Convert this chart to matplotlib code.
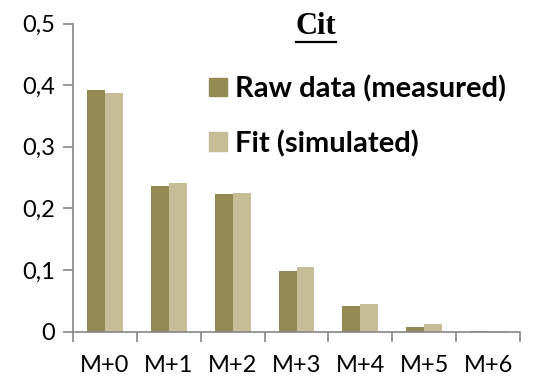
import matplotlib
matplotlib.use("Agg")
import matplotlib.pyplot as plt
import numpy as np
from matplotlib.ticker import FuncFormatter, FixedLocator
from matplotlib.patches import Patch
from matplotlib.lines import Line2D

categories = ["M+0", "M+1", "M+2", "M+3", "M+4", "M+5", "M+6"]
raw_values = [0.3916, 0.237, 0.2237, 0.0987, 0.0419, 0.0068, 0.0003]
fit_values = [0.3867, 0.241, 0.2253, 0.104, 0.045, 0.0122, 0.0015]
series_labels = ["Raw data (measured)", "Fit (simulated)"]
title = "Cit"

raw_color = "#948A54"
fit_color = "#C4BD97"
axis_color = "#868686"

plt.rcParams['font.family'] = ['Lato', 'DejaVu Sans']

fig = plt.figure(figsize=(5.51, 3.81), dpi=100)
ax = fig.add_axes([73/551, 1-331.5/381, (520-73)/551, (331.5-23.5)/381])

x = np.arange(len(categories))
w = 0.28
ax.bar(x - w/2, raw_values, width=w, color=raw_color, label=series_labels[0])
ax.bar(x + w/2, fit_values, width=w, color=fit_color, label=series_labels[1])

ax.set_xlim(-0.5, len(categories) - 0.5)
ax.set_ylim(0, 0.5)
ax.set_yticks(np.arange(0, 0.51, 0.1))
ax.yaxis.set_major_formatter(FuncFormatter(lambda v, p: "0" if abs(v) < 1e-9 else f"{v:.1f}".replace(".", ",")))

ax.xaxis.set_major_locator(FixedLocator(np.arange(-0.5, len(categories), 1.0)))
ax.xaxis.set_major_formatter(FuncFormatter(lambda v, p: ""))
ax.xaxis.set_minor_locator(FixedLocator(x))
ax.set_xticklabels(categories, minor=True)
ax.tick_params(axis='x', which='minor', length=0, pad=17, labelsize=17, colors='black')
ax.tick_params(axis='x', which='major', length=7, width=1.2, color=axis_color, direction='out')
ax.tick_params(axis='y', length=7, width=1.2, color=axis_color, direction='out', labelsize=17, pad=6)

for s in ['top', 'right']:
    ax.spines[s].set_visible(False)
for s in ['left', 'bottom']:
    ax.spines[s].set_color(axis_color)
    ax.spines[s].set_linewidth(1.2)

handles = [Patch(color=raw_color), Patch(color=fit_color)]
leg = ax.legend(handles, series_labels, loc='upper left', bbox_to_anchor=((209-73)/447, (331.5-75)/308),
                frameon=False, prop={'weight': 'bold', 'size': 21}, handlelength=0.6, handleheight=0.6,
                handletextpad=0.3, labelspacing=0.95, borderaxespad=0, borderpad=0)

t = fig.text(316/551, 1-27/381, title, ha='center', va='center', fontsize=22, fontweight='bold',
             family='Liberation Serif')
fig.canvas.draw()
bb = t.get_window_extent()
inv = fig.transFigure.inverted()
(x0, y0), (x1, y1) = inv.transform([[bb.x0, bb.y0], [bb.x1, bb.y1]])
fig.add_artist(Line2D([x0, x1], [1-42/381, 1-42/381], color='black', lw=1.6, transform=fig.transFigure))

fig.savefig("out.png", dpi=100)
